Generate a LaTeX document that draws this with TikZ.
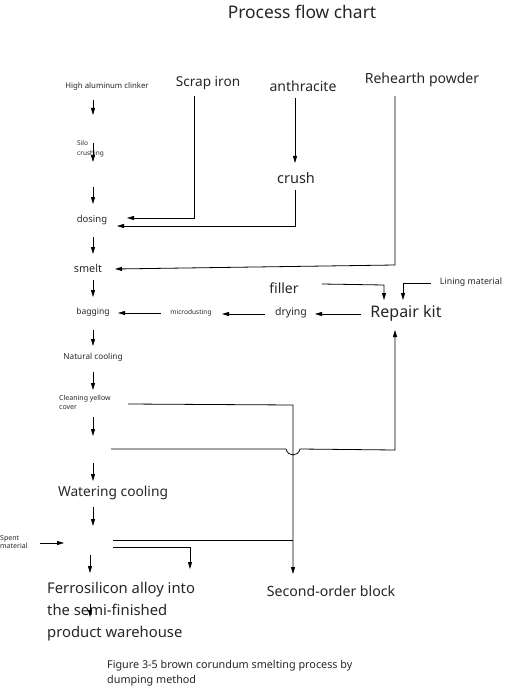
\documentclass[tikz,border=0pt]{standalone}
\usepackage{fontspec}
\setmainfont{Noto Sans}
\usetikzlibrary{arrows.meta}
\newcommand{\fs}[1]{\fontsize{#1}{#1}\selectfont}
\begin{document}
\begin{tikzpicture}[x=1pt,y=-1pt,
  arr/.style={-{Triangle[length=7pt,width=4pt]}, line width=0.8pt},
  ln/.style={line width=0.8pt},
  lbl/.style={inner sep=0pt, text=black!85}]
\useasboundingbox (0,0) rectangle (506,695);
% nodes
\node[lbl,font=\fs{17.4}] (title) at (302,12) {Process flow chart};
\node[lbl,font=\fs{7.8}] (clinker) at (107,86) {High aluminum clinker};
\node[lbl,font=\fs{13.6}] (scrap) at (208,83) {Scrap iron};
\node[lbl,font=\fs{14}] (anth) at (303,86) {anthracite};
\node[lbl,font=\fs{14}] (reh) at (422,80) {Rehearth powder};
\node[lbl,font=\fs{6.5},align=left,anchor=west] (silo) at (77,149) {Silo\\[3pt]crushing};
\node[lbl,font=\fs{9.5}] (dosing) at (92,220) {dosing};
\node[lbl,font=\fs{14.5}] (crush) at (296,178) {crush};
\node[lbl,font=\fs{10.8}] (smelt) at (88,268) {smelt};
\node[lbl,font=\fs{8.5}] (bag) at (93,312) {bagging};
\node[lbl,font=\fs{6.6}] (micro) at (191,313) {microdusting};
\node[lbl,font=\fs{10.5}] (dry) at (291,313) {drying};
\node[lbl,font=\fs{16}] (repair) at (406,313) {Repair kit};
\node[lbl,font=\fs{14}] (filler) at (284,288) {filler};
\node[lbl,font=\fs{8.8}] (lining) at (471,282) {Lining material};
\node[lbl,font=\fs{8.2}] (natural) at (93,357) {Natural cooling};
\node[lbl,font=\fs{7},align=left,anchor=west] (clean) at (59,402) {Cleaning yellow\\[2pt]cover};
\node[lbl,font=\fs{13.75}] (water) at (113,493) {Watering cooling};
\node[lbl,font=\fs{7},align=left,anchor=west] (spent) at (0,542) {Spent\\[1pt]material};
\node[lbl,font=\fs{14.8},align=left,anchor=north west] (ferro) at (47,582) {Ferrosilicon alloy into\\[6.5pt]the semi-finished\\[6.5pt]product warehouse};
\node[lbl,font=\fs{14.1}] (second) at (331,591) {Second-order block};
\node[lbl,font=\fs{10.8},align=left,anchor=north west] (cap) at (107,660) {Figure 3-5 brown corundum smelting process by\\[4pt]dumping method};
% coordinates
\coordinate (s1) at (194,218); \coordinate (e1) at (127,218);
\coordinate (s2) at (295,226); \coordinate (e2) at (117,226);
\coordinate (s3) at (395,265); \coordinate (e3) at (115,269);
\coordinate (f1) at (384,285); \coordinate (f2) at (384,300);
\coordinate (l1) at (403,283); \coordinate (l2) at (403,300);
\coordinate (c1) at (293,405); \coordinate (c2) at (293,574);
\coordinate (h0) at (111,449); \coordinate (h1) at (286,449); \coordinate (h2) at (300,449);
\coordinate (h3) at (395,450); \coordinate (h4) at (395,330);
\coordinate (j1) at (293,540); \coordinate (k1) at (190,547); \coordinate (k2) at (190,569);
% main column arrows
\draw[arr] (93,100) -- (93,115);
\draw[arr] (93,143) -- (93,162);
\draw[arr] (93,187) -- (93,204);
\draw[arr] (93,237) -- (93,254);
\draw[arr] (93,280) -- (93,297);
\draw[arr] (93,330) -- (93,346);
\draw[arr] (93,372) -- (93,390);
\draw[arr] (93,417) -- (93,436);
\draw[arr] (93,463) -- (93,481);
\draw[arr] (93,507) -- (93,526);
\draw[arr] (90,555) -- (90,573);
\draw[arr] (90,604) -- (90,617);
% side inputs
\draw[arr] (scrap.south) ++(-14,6) -- (s1) -- (e1);
\draw[arr] (anth.south) ++(-8,6) -- (295,163);
\draw[arr] (crush.south) ++(-1,6) -- (s2) -- (e2);
\draw[arr] (reh.south) ++(-27,9) -- (s3) -- (e3);
\draw[arr] (micro.west) ++(-9,0) -- (118,313);
\draw[arr] (dry.west) ++(-10,1) -- (222,314);
\draw[arr] (repair.west) ++(-9,1) -- (315,314);
\draw[arr] (filler.east) ++(23,-4) -- (f1) -- (f2);
\draw[arr] (lining.west) ++(-9,1) -- (l1) -- (l2);
\draw[arr] (clean.east) ++(17,2) -- (c1) -- (c2);
\draw[arr] (h0) -- (h1) .. controls (288,457) and (298,457) .. (h2) -- (h3) -- (h4);
\draw[arr] (spent.east) ++(12,1) -- (64,543);
\draw[ln] (113,540) -- (j1);
\draw[arr] (113,547) -- (k1) -- (k2);
\end{tikzpicture}
\end{document}
